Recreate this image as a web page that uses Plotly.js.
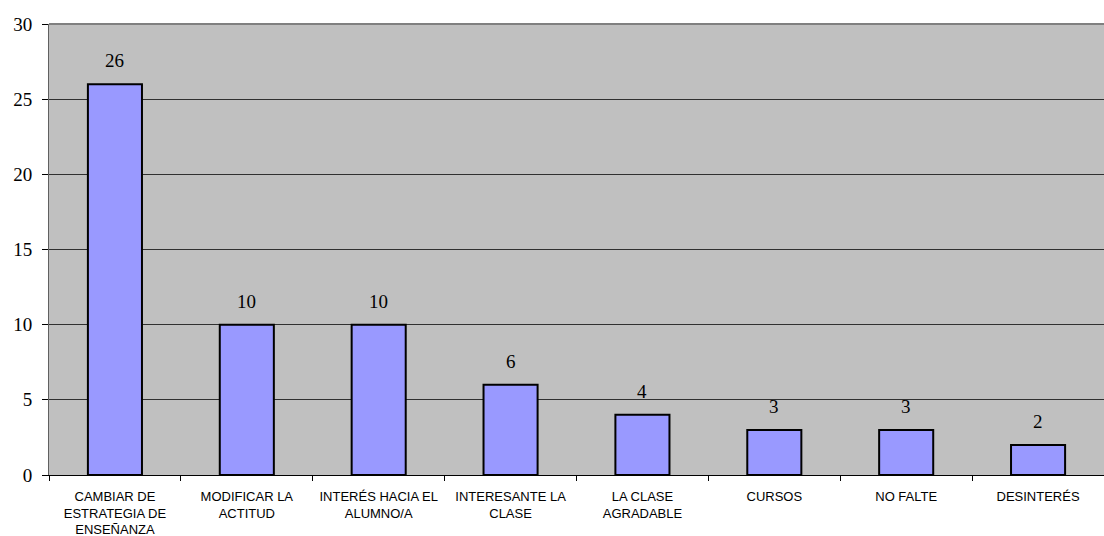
<!DOCTYPE html>
<html>
<head>
<meta charset="utf-8">
<script src="https://cdn.plot.ly/plotly-3.0.1.min.js"></script>
<style>html,body{margin:0;padding:0;background:#fff;}#chart{width:1104px;height:536px;}</style>
</head>
<body>
<div id="chart"></div>
<script>
const categories = [
  "CAMBIAR DE<br>ESTRATEGIA DE<br>ENSEÑANZA",
  "MODIFICAR LA<br>ACTITUD",
  "INTERÉS HACIA EL<br>ALUMNO/A",
  "INTERESANTE LA<br>CLASE",
  "LA CLASE<br>AGRADABLE",
  "CURSOS",
  "NO FALTE",
  "DESINTERÉS"
];
const values = [26, 10, 10, 6, 4, 3, 3, 2];
const yTicks = [0, 5, 10, 15, 20, 25, 30];

const SERIF = "Liberation Serif";
const SANS = "Liberation Sans";

const trace = {
  type: "bar",
  x: categories,
  y: values,
  width: 0.41,
  marker: {color: "#9999FF", line: {color: "#000000", width: 2}},
  hoverinfo: "none"
};

const annotations = categories.map((c, i) => ({
  x: c, y: values[i], xref: "x", yref: "y",
  text: String(values[i]), showarrow: false,
  yanchor: "bottom", yshift: 11,
  font: {family: SERIF, size: 19, color: "#000"}
}));

const layout = {
  width: 1104, height: 536,
  margin: {l: 49, r: 0, t: 24, b: 61, pad: 0},
  paper_bgcolor: "#ffffff",
  plot_bgcolor: "#C0C0C0",
  showlegend: false,
  bargap: 0.59,
  font: {family: SERIF},
  xaxis: {
    type: "category",
    tickson: "boundaries",
    ticks: "outside", ticklen: 5, tickcolor: "#000", tickwidth: 1,
    ticklabelstandoff: 9,
    showline: true, linecolor: "#000", linewidth: 1,
    showgrid: false,
    tickfont: {family: SANS, size: 13, color: "#000"},
    tickangle: 0,
    fixedrange: true
  },
  yaxis: {
    range: [0, 30],
    tickvals: yTicks,
    ticktext: yTicks.map(String),
    ticks: "outside", ticklen: 6, tickcolor: "#000", tickwidth: 1,
    ticklabelstandoff: 6,
    showline: true, linecolor: "#606060", linewidth: 1,
    showgrid: true, gridcolor: "#303030", gridwidth: 1,
    zeroline: false,
    tickfont: {family: SERIF, size: 19, color: "#000"},
    fixedrange: true
  },
  shapes: [
    {type: "line", xref: "paper", yref: "paper", x0: 0, x1: 1, y0: 1, y1: 1,
     line: {color: "#808080", width: 2}}
  ],
  annotations: annotations
};

Plotly.newPlot("chart", [trace], layout, {displayModeBar: false, staticPlot: true});
</script>
</body>
</html>
